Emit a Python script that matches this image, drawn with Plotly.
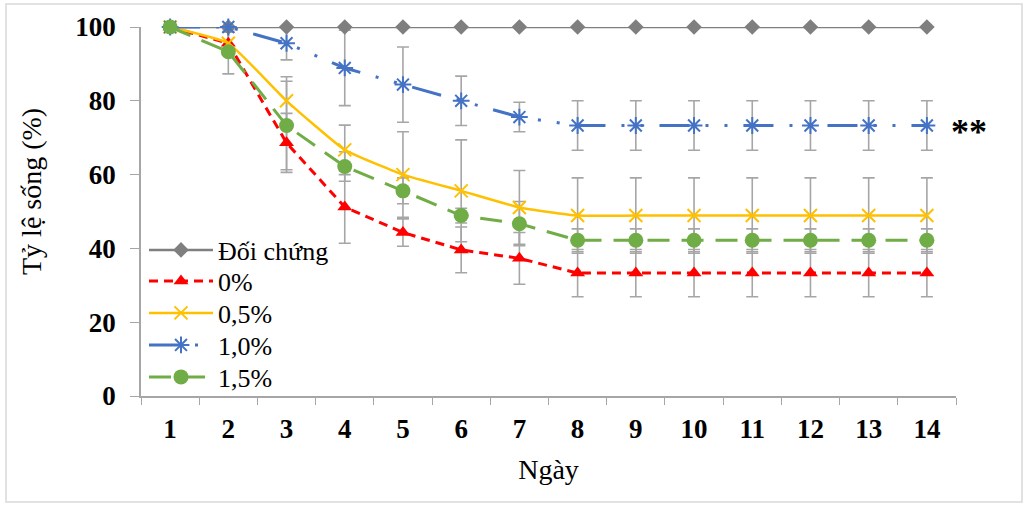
import plotly.graph_objects as go

days = [str(d) for d in range(1, 15)]

names = ["Đối chứng", "0%", "0,5%", "1,0%", "1,5%"]

ctrl = [100] * 14
p0 = [100, 95.6, 68.6, 51.2, 44.3, 39.6, 37.3, 33.3, 33.3, 33.3, 33.3, 33.3, 33.3, 33.3]
p05 = [100, 95.6, 80.0, 66.7, 60.0, 55.6, 51.1, 48.9, 48.9, 48.9, 48.9, 48.9, 48.9, 48.9]
p10 = [100, 100, 95.6, 88.9, 84.4, 80.0, 75.6, 73.3, 73.3, 73.3, 73.3, 73.3, 73.3, 73.3]
p15 = [100, 93.3, 73.3, 62.2, 55.6, 48.9, 46.7, 42.2, 42.2, 42.2, 42.2, 42.2, 42.2, 42.2]

err_ctrl = [0] * 14
err_p0 = [0, 3, 8, 9.8, 3.7, 6.2, 7, 6.4, 6.4, 6.4, 6.4, 6.4, 6.4, 6.4]
err_p05 = [0, 3, 6.5, 6.7, 11.6, 13.8, 10, 10.2, 10.2, 10.2, 10.2, 10.2, 10.2, 10.2]
err_p10 = [0, 0, 4.5, 10.2, 10.2, 6.7, 4, 6.7, 6.7, 6.7, 6.7, 6.7, 6.7, 6.7]
err_p15 = [0, 6, 12, 4, 3.5, 2, 6, 3.1, 3.1, 3.1, 3.1, 3.1, 3.1, 3.1]

series = [ctrl, p0, p05, p10, p15]
errors = [err_ctrl, err_p0, err_p05, err_p10, err_p15]
colors = ["#7F7F7F", "#FF0000", "#FFC000", "#4472C4", "#70AD47"]
dashes = ["solid", "9px,6px", "solid", "30px,16px,3px,16px,3px,16px", "22px,12px"]
widths = [2.5, 3, 2.5, 3, 3]
shapes_line = ["linear", "linear", "spline", "linear", "linear"]
markers = [
    dict(symbol="diamond", size=12, color="#7F7F7F"),
    dict(symbol="triangle-up", size=13, color="#FF0000"),
    dict(symbol="x-thin-open", size=13, color="#FFC000", line=dict(width=2, color="#FFC000")),
    dict(symbol="asterisk-open", size=14, color="#4472C4", line=dict(width=2, color="#4472C4")),
    dict(symbol="circle", size=15, color="#70AD47"),
]
legend_ids = ["legend", "legend2", "legend3", "legend4", "legend5"]
legend_centers_px = [250, 281, 313, 345, 377]

# plot area in page pixels
L, R, T, B = 141, 956, 27, 396
PW, PH = R - L, B - T

fig = go.Figure()

# error bars first (drawn behind the lines)
for vals, errs in zip(series, errors):
    fig.add_trace(go.Scatter(
        x=days, y=vals, mode="markers",
        marker=dict(size=1, opacity=0),
        error_y=dict(type="data", array=errs, visible=True,
                     color="#A6A6A6", thickness=1.6, width=6),
        showlegend=False, hoverinfo="skip", cliponaxis=False,
    ))

for name, vals, col, dsh, w, shp, mk, lg in zip(names, series, colors, dashes, widths, shapes_line, markers, legend_ids):
    fig.add_trace(go.Scatter(
        x=days, y=vals, name=name, mode="lines+markers",
        line=dict(color=col, dash=dsh, width=w, shape=shp, smoothing=0.4 if shp == "spline" else None),
        marker=mk, cliponaxis=False, legend=lg,
    ))

fig.add_annotation(x=13, y=73.3, text="<b>**</b>", showarrow=False,
                   xshift=42, yshift=-6,
                   font=dict(family="Liberation Serif", size=36, color="#000000"))

# y axis title
fig.add_annotation(xref="paper", yref="paper",
                   x=(31 - L) / PW, y=(B - 192) / PH,
                   text="Tỷ lệ sống (%)", textangle=-90, showarrow=False,
                   xanchor="center", yanchor="middle",
                   font=dict(family="Liberation Serif", size=28, color="#000000"))

fig.add_shape(type="rect", xref="paper", yref="paper",
              x0=(6 - L) / PW, x1=(1022 - L) / PW,
              y0=(B - 502) / PH, y1=(B - 4) / PH,
              line=dict(color="#D9D9D9", width=1.5), fillcolor="rgba(0,0,0,0)", layer="below")

legend_layout = {}
for lg, yc in zip(legend_ids, legend_centers_px):
    legend_layout[lg] = dict(
        x=(144 - L) / PW, y=(B - yc) / PH, xanchor="left", yanchor="middle",
        bgcolor="rgba(0,0,0,0)",
        font=dict(family="Liberation Serif", size=26, color="#000000"),
        itemwidth=64,
    )

fig.update_layout(
    width=1028, height=507,
    margin=dict(l=L, r=1028 - R, t=T, b=507 - B),
    paper_bgcolor="white", plot_bgcolor="white",
    font=dict(family="Liberation Serif", size=18, color="#000000"),
    showlegend=True,
    xaxis=dict(
        type="category", categoryorder="array", categoryarray=days,
        range=[-0.5, 13.5],
        showline=True, linecolor="#A6A6A6", linewidth=1.5,
        ticks="outside", ticklen=7, tickcolor="#A6A6A6", tickson="boundaries",
        ticklabelstandoff=8,
        tickfont=dict(family="Liberation Serif", size=27, color="#000000", weight="bold"),
        showgrid=False, zeroline=False,
        title=dict(text="Ngày", font=dict(family="Liberation Serif", size=28, color="#000000"), standoff=16),
    ),
    yaxis=dict(
        range=[0, 100], tickvals=[0, 20, 40, 60, 80, 100],
        showline=True, linecolor="#A6A6A6", linewidth=1.5,
        ticks="outside", ticklen=9, tickcolor="#A6A6A6",
        ticklabelstandoff=9,
        tickfont=dict(family="Liberation Serif", size=27, color="#000000", weight="bold"),
        showgrid=False, zeroline=False,
    ),
    **legend_layout,
)

fig.write_html("out.html", config={"displayModeBar": False},
               post_script="document.body.style.margin='0';")
